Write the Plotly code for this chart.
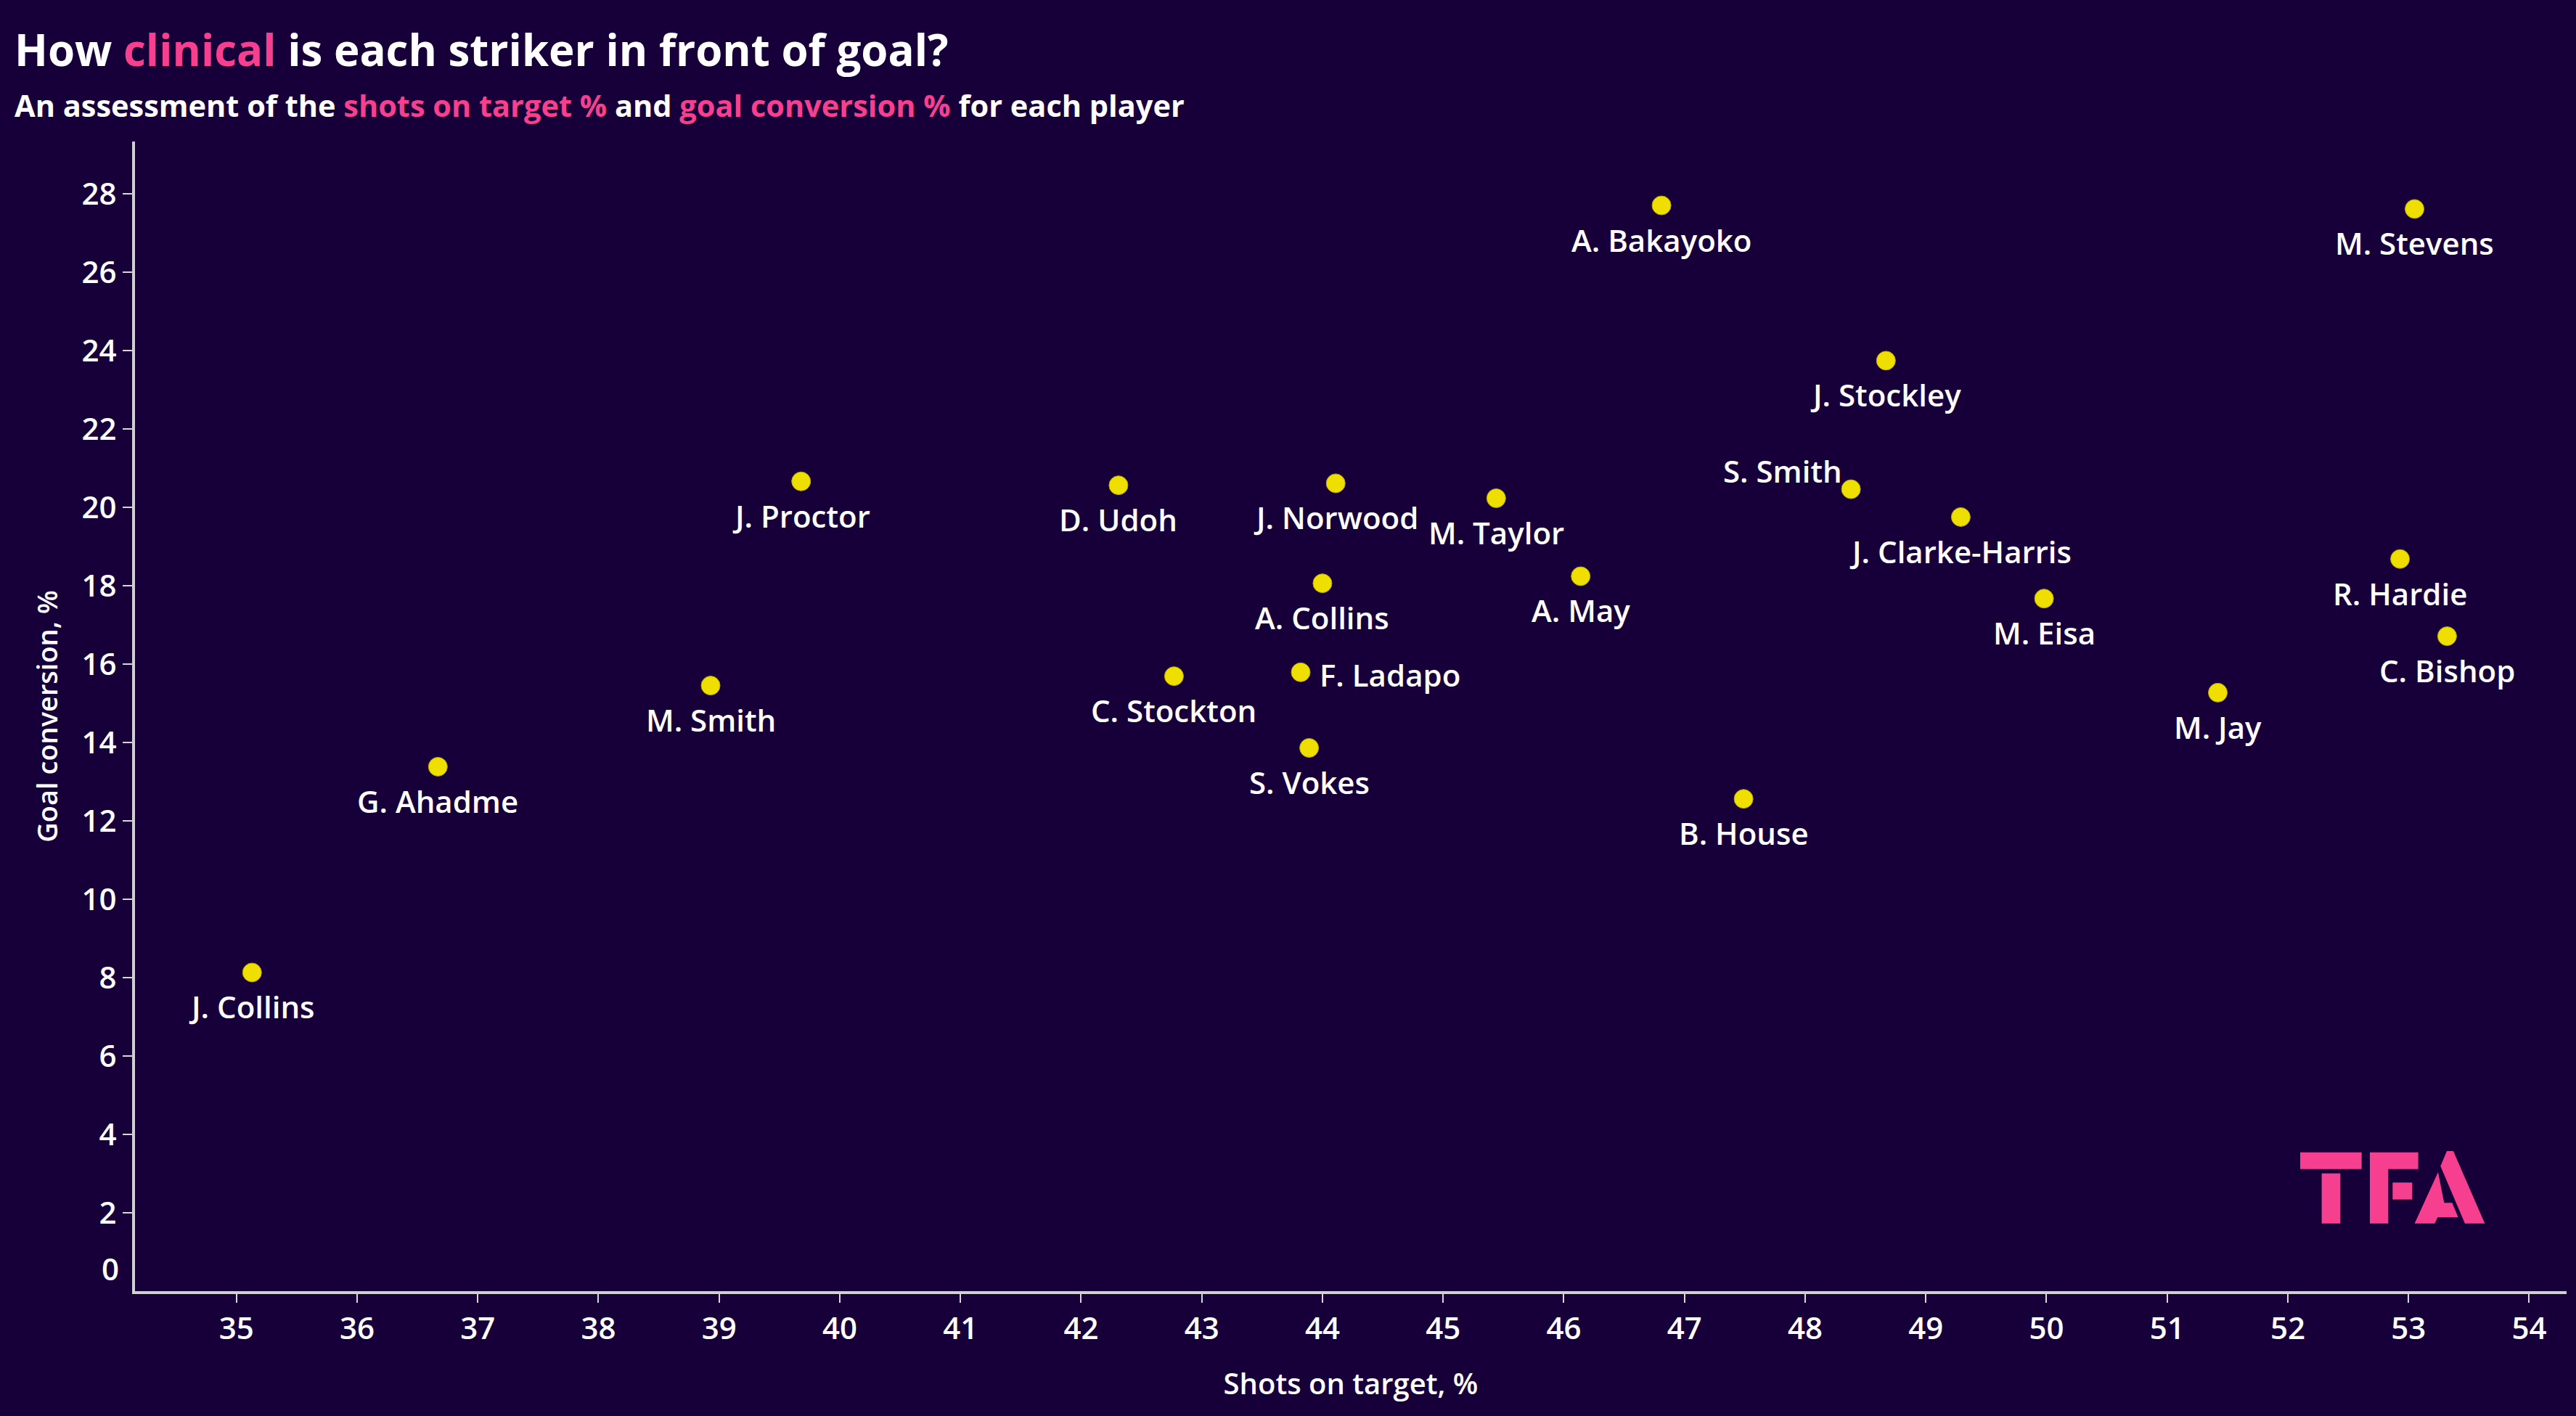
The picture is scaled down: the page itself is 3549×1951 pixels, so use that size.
import plotly.graph_objects as go

players = ["J. Collins", "G. Ahadme", "M. Smith", "J. Proctor", "D. Udoh", "C. Stockton",
           "J. Norwood", "A. Collins", "F. Ladapo", "S. Vokes", "M. Taylor", "A. May",
           "A. Bakayoko", "B. House", "S. Smith", "J. Stockley", "J. Clarke-Harris",
           "M. Eisa", "M. Jay", "M. Stevens", "R. Hardie", "C. Bishop"]
shots_on_target = [35.13, 36.67, 38.93, 39.68, 42.31, 42.77,
                   44.11, 44.00, 43.82, 43.89, 45.44, 46.14,
                   46.81, 47.49, 48.38, 48.67, 49.29,
                   49.98, 51.42, 53.05, 52.93, 53.32]
goal_conversion = [8.13, 13.38, 15.45, 20.66, 20.56, 15.69,
                   20.61, 18.06, 15.79, 13.86, 20.23, 18.24,
                   27.70, 12.56, 20.46, 23.74, 19.75,
                   17.67, 15.27, 27.61, 18.68, 16.71]

x_ticks = list(range(35, 55))
y_ticks = list(range(2, 29, 2))

BG = "#17003a"
PINK = "#f63f8e"
YELLOW = "#eedf00"
FONT = "Open Sans"

W, H = 3549, 1951
L, R, T, B = 186, 13, 195, 172
PW, PH = W - L - R, H - T - B

def px(x, y):
    return (x - L) / PW, (H - B - y) / PH

fig = go.Figure()
fig.add_trace(go.Scatter(
    x=shots_on_target, y=goal_conversion, text=players, mode="markers",
    cliponaxis=False,
    marker=dict(size=26, color=YELLOW, line=dict(width=1, color="#b8a800")),
    hoverinfo="text", showlegend=False))

label_font = dict(family=FONT, size=42, color="white", weight=600)
for name, xv, yv in zip(players, shots_on_target, goal_conversion):
    opts = dict(xanchor="center", yanchor="middle", xshift=0, yshift=-47)
    if name == "S. Smith":
        opts = dict(xanchor="right", yanchor="middle", xshift=-10, yshift=26)
    elif name == "F. Ladapo":
        opts = dict(xanchor="left", yanchor="middle", xshift=24, yshift=-3)
    fig.add_annotation(x=xv, y=yv, xref="x", yref="y", text=name, showarrow=False,
                       font=label_font, **opts)

axis_common = dict(ticks="outside", tickwidth=2, tickcolor="#d8d8d8", showline=True,
                   linecolor="#d0d0d0", linewidth=4, showgrid=False, zeroline=False,
                   automargin=False,
                   tickfont=dict(family=FONT, size=42, color="white", weight=600))

fig.update_layout(
    template="none",
    width=W, height=H,
    margin=dict(l=L, r=R, t=T, b=B, autoexpand=False),
    paper_bgcolor=BG, plot_bgcolor=BG,
    font=dict(family=FONT, color="white"),
    xaxis=dict(range=[34.16, 54.31], tickvals=x_ticks, ticklen=12, **axis_common,
               title=dict(text="Shots on target, %", standoff=38,
                          font=dict(family=FONT, size=40, color="white", weight=600))),
    yaxis=dict(range=[0, 29.33], tickvals=y_ticks, ticklen=13, **axis_common,
               title=dict(text="Goal conversion, %", standoff=22,
                          font=dict(family=FONT, size=38, color="white", weight=600))),
)

# zero label on the y axis sits just above the x axis
fig.add_annotation(x=0, xref="paper", y=0, yref="y", text="0", showarrow=False,
                   xanchor="right", yanchor="middle", xshift=-20, yshift=32,
                   font=dict(family=FONT, size=42, color="white", weight=600))

# title and subtitle
tx, ty = px(18, 68)
fig.add_annotation(x=tx, y=ty, xref="paper", yref="paper", xanchor="left", yanchor="middle",
                   showarrow=False,
                   text=f"<b>How <span style='color:{PINK}'>clinical</span> is each striker in front of goal?</b>",
                   font=dict(family=FONT, size=60, color="white"))
sx, sy = px(18, 145)
fig.add_annotation(x=sx, y=sy, xref="paper", yref="paper", xanchor="left", yanchor="middle",
                   showarrow=False,
                   text=(f"<b>An assessment of the <span style='color:{PINK}'>shots on target %</span> and "
                         f"<span style='color:{PINK}'>goal conversion %</span> for each player</b>"),
                   font=dict(family=FONT, size=41.5, color="white"))

# TFA logo drawn as shapes (pixel geometry -> paper coords)
def logo_pt(xd, yd):
    return px(3100 + xd / 3, 1540 + yd / 3)

def poly(points):
    pts = [logo_pt(a, b) for a, b in points]
    return "M " + " L ".join(f"{x:.5f},{y:.5f}" for x, y in pts) + " Z"

logo_polys = [
    [(207, 143), (461, 143), (461, 212), (207, 212)],
    [(296, 230), (373, 230), (373, 437), (296, 437)],
    [(495, 143), (695, 143), (695, 212), (571, 212), (571, 437), (495, 437)],
    [(589, 268), (670, 268), (670, 338), (589, 338)],
    [(813, 138), (840, 138), (970, 437), (888, 437), (787, 200)],
    [(777, 225), (802, 352), (835, 352), (860, 412), (775, 412), (763, 437), (680, 437)],
]
for p in logo_polys:
    fig.add_shape(type="path", xref="paper", yref="paper", path=poly(p),
                  fillcolor=PINK, line=dict(width=0), layer="above")

fig.write_html("out.html", config={"displayModeBar": False},
               post_script="document.body.style.margin='0';document.body.style.background='%s';" % BG)
